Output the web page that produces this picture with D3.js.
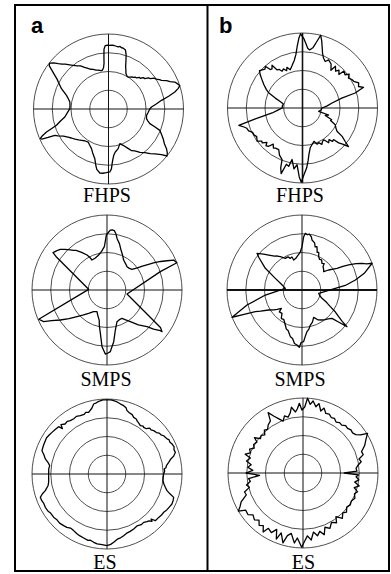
<!DOCTYPE html>
<html>
<head>
<meta charset="utf-8">
<script src="https://cdn.jsdelivr.net/npm/d3@7"></script>
<style>
  body { margin: 0; background: #fff; }
  svg { display: block; }
</style>
</head>
<body>
<svg width="391" height="574"></svg>
<script>
// traces: [angle in degrees, counter-clockwise from +x, radius / outer ring]
const fhpsA = [[0,0.55],[2.7,0.574],[6,0.64],[9.3,0.716],[12,0.82],[14.4,0.913],[16.5,0.97],[18.1,1.0],[20,0.98],[22.1,0.955],[24,0.90],[26,0.86],[28.4,0.803],[30,0.785],[32,0.75],[34,0.735],[36,0.69],[38,0.675],[39.9,0.631],[42,0.625],[44,0.59],[46,0.588],[48,0.56],[50,0.553],[52,0.535],[54,0.528],[56,0.512],[58.4,0.50],[61,0.505],[64,0.53],[66,0.57],[68,0.61],[70,0.68],[72,0.76],[74,0.82],[76.3,0.835],[78,0.835],[79.5,0.848],[81.1,0.837],[83,0.843],[85,0.850],[87,0.852],[89,0.848],[91,0.85],[93,0.845],[94.3,0.80],[95,0.70],[95.6,0.61],[97,0.55],[99,0.525],[101,0.52],[105,0.538],[108,0.545],[111,0.566],[114,0.58],[116.8,0.606],[120,0.64],[123,0.686],[126,0.71],[130.3,0.768],[134,0.83],[136,0.862],[138,0.903],[140,0.955],[142.1,0.995],[143.8,0.98],[145.5,0.92],[147.9,0.845],[150,0.79],[152,0.755],[156.6,0.683],[160,0.62],[162,0.589],[166,0.55],[169.7,0.524],[175,0.515],[179.5,0.516],[185,0.55],[190.4,0.592],[194,0.66],[197.4,0.727],[199,0.80],[200.4,0.882],[202,0.95],[203.4,0.99],[204.3,0.975],[205.2,0.89],[206.1,0.797],[208,0.765],[211,0.70],[214.8,0.658],[218,0.628],[222,0.60],[226,0.574],[229.2,0.551],[233,0.53],[238.4,0.517],[242,0.54],[246.8,0.575],[250,0.62],[254.6,0.687],[257,0.76],[259,0.82],[262.3,0.861],[265,0.86],[268,0.85],[271.2,0.84],[272.8,0.80],[273.8,0.73],[275,0.67],[276.5,0.621],[279,0.58],[283.7,0.544],[288.1,0.486],[292,0.522],[296,0.58],[299.1,0.636],[302,0.66],[306,0.715],[309.8,0.757],[313,0.815],[316,0.86],[319.3,0.933],[321.2,1.0],[323.2,0.98],[325.6,0.937],[328,0.88],[331.5,0.829],[334,0.79],[337.4,0.741],[339,0.66],[340.5,0.585],[343,0.55],[345.7,0.523],[350.5,0.514],[355,0.53]];

const smpsA = [[348.7,0.272],[19,0.752],[21.3,1.0],[24.2,0.975],[26,0.89],[28,0.81],[30,0.73],[32,0.64],[34,0.57],[36,0.50],[39.6,0.433],[44,0.415],[49.4,0.41],[55,0.43],[61,0.457],[66,0.51],[70.7,0.565],[75,0.64],[79,0.70],[81,0.76],[83,0.797],[85,0.805],[86.8,0.80],[88.5,0.77],[90.7,0.733],[92,0.65],[93.5,0.579],[98,0.52],[103.4,0.48],[110,0.455],[116.6,0.447],[118,0.50],[119.7,0.537],[124,0.605],[128,0.67],[130,0.69],[132.5,0.727],[136,0.78],[139,0.825],[141.8,0.85],[145.3,0.875],[147,0.80],[177.9,0.245],[203.2,0.99],[206.6,0.944],[209,0.845],[212.7,0.74],[217,0.635],[221.6,0.535],[226,0.465],[231.8,0.396],[238,0.34],[245.2,0.318],[250,0.36],[255.5,0.415],[258,0.49],[261.3,0.585],[265,0.759],[268.5,0.854],[271,0.84],[273.1,0.823],[275,0.76],[277.4,0.695],[281.8,0.545],[287.5,0.443],[292,0.43],[297.9,0.427],[302,0.47],[306.4,0.524],[312,0.625],[317.5,0.724],[320,0.81],[322.7,0.894],[322.9,0.92],[325,0.87]];

const esA = [[0,0.755],[3,0.77],[5,0.765],[6,0.79],[8,0.80],[10.7,0.837],[13,0.87],[15,0.92],[17.6,0.956],[20,0.95],[22,0.965],[24.8,0.955],[27,0.94],[29,0.945],[30,0.93],[32,0.92],[34,0.912],[36,0.89],[38,0.885],[40,0.86],[42.9,0.85],[45,0.83],[47,0.835],[49,0.80],[51.8,0.791],[53,0.80],[55.4,0.783],[58,0.80],[60,0.81],[62,0.83],[64.8,0.835],[67,0.86],[70,0.87],[72.5,0.886],[74,0.92],[76.3,0.938],[79,0.95],[82,0.97],[84.8,0.982],[87,0.99],[90,0.987],[93,0.99],[96.5,0.975],[98.5,0.96],[100.8,0.95],[103,0.90],[106.6,0.858],[109,0.87],[111,0.85],[114.6,0.855],[118,0.87],[121,0.86],[124.5,0.863],[127,0.88],[130,0.87],[133,0.90],[134.5,0.849],[135.6,0.902],[139,0.91],[142.9,0.92],[146,0.93],[149,0.94],[151.6,0.935],[155,0.93],[158,0.925],[160.3,0.921],[163,0.88],[166.3,0.846],[169,0.80],[171.7,0.772],[175,0.78],[180,0.778],[184,0.78],[188.1,0.786],[191,0.80],[195.1,0.852],[197,0.90],[199.3,0.942],[202,0.94],[205,0.93],[208.4,0.935],[212,0.93],[215,0.915],[219,0.916],[222,0.905],[226,0.91],[230,0.899],[233,0.89],[236,0.87],[239.5,0.876],[243,0.89],[246,0.90],[250,0.908],[254,0.92],[256,0.91],[259,0.928],[262,0.94],[266,0.945],[270,0.955],[273,0.94],[275.6,0.915],[279,0.88],[282,0.87],[285.1,0.852],[289,0.83],[292,0.825],[295.9,0.815],[300,0.80],[304,0.815],[307.2,0.81],[310,0.83],[312,0.84],[313.5,0.87],[314.4,0.84],[316,0.896],[320,0.90],[323,0.91],[326,0.912],[329,0.93],[332,0.94],[335.2,0.954],[338,0.95],[340.7,0.942],[342.5,0.88],[344.5,0.83],[347,0.80],[350,0.77],[353.2,0.752],[356,0.75]];

const fhpsB = [[0,0.26],[5,0.33],[9.6,0.40],[14.2,0.54],[15.9,0.73],[18.7,0.86],[21,0.80],[24,0.82],[27.5,0.77],[30,0.76],[33,0.73],[36,0.77],[38,0.72],[41.7,0.74],[42.6,0.66],[46,0.70],[48,0.66],[51.8,0.71],[53,0.63],[57,0.70],[61.5,0.73],[64,0.69],[67,0.72],[70,0.78],[72,0.85],[74,0.93],[76,1.0],[78,0.90],[80,0.82],[83,0.78],[85,0.80],[87,0.86],[89,0.93],[91.5,0.99],[93,0.93],[95,0.82],[97,0.72],[100,0.64],[102,0.61],[104,0.58],[107.7,0.536],[111,0.58],[113,0.54],[116,0.58],[119,0.56],[121,0.60],[123.6,0.61],[125.5,0.70],[128,0.66],[130,0.67],[131.7,0.745],[134,0.72],[136.6,0.74],[139,0.76],[141.7,0.72],[145,0.66],[149,0.60],[153,0.54],[156,0.49],[160,0.386],[164,0.31],[168,0.26],[174,0.27],[180,0.27],[185,0.33],[189.3,0.41],[193,0.645],[195.2,0.88],[198,0.82],[200,0.79],[203,0.78],[206,0.74],[209,0.74],[212,0.72],[216.2,0.75],[219,0.70],[221,0.71],[224,0.66],[226,0.70],[228.6,0.68],[231,0.62],[234,0.66],[236,0.645],[240.3,0.64],[244,0.70],[248.4,0.74],[250,0.85],[252,0.92],[254,0.78],[256.7,0.80],[258.5,0.70],[262,0.82],[264.5,0.76],[267.3,0.92],[269,0.99],[271,0.90],[274,0.80],[276,0.71],[278,0.62],[281,0.54],[285,0.50],[289,0.47],[292,0.52],[295,0.51],[298,0.55],[301,0.52],[304,0.51],[307,0.58],[310,0.55],[312,0.60],[314.5,0.59],[316,0.67],[318,0.72],[320,0.80],[322,0.72],[324.4,0.65],[326,0.555],[329,0.52],[333,0.49],[336,0.41],[338,0.42],[342,0.32],[345,0.36],[348.5,0.22],[354,0.25]];

const smpsB = [[2.9,0.445],[6,0.58],[10.6,0.724],[15,0.86],[20.9,1.0],[22,0.93],[24,0.875],[26,0.80],[28.2,0.706],[30,0.63],[31.8,0.549],[34,0.50],[36.9,0.444],[40.2,0.378],[44,0.40],[48,0.42],[50,0.46],[53.1,0.444],[57,0.48],[60,0.47],[63.4,0.497],[66,0.55],[68,0.54],[70.9,0.611],[73,0.60],[75,0.65],[78.7,0.68],[80,0.72],[82.5,0.753],[84.5,0.74],[86.6,0.757],[88.2,0.711],[90,0.578],[92.5,0.51],[95,0.48],[98.5,0.449],[101,0.43],[105.5,0.415],[107,0.46],[110.2,0.45],[113,0.48],[117.8,0.477],[120,0.50],[123,0.53],[126,0.56],[129,0.58],[133.6,0.644],[137,0.70],[140.8,0.774],[143,0.72],[149.4,0.568],[156.4,0.388],[165,0.28],[174.3,0.223],[187.8,0.493],[195.3,0.76],[201.3,1.0],[202.6,0.867],[204.9,0.686],[207,0.62],[211,0.518],[215,0.46],[218,0.42],[221.6,0.368],[224,0.42],[229.4,0.41],[234,0.47],[238,0.46],[244.5,0.517],[248,0.56],[251,0.57],[256,0.641],[259,0.66],[262,0.72],[264.8,0.736],[267.3,0.765],[269,0.70],[271.8,0.689],[274,0.62],[276.8,0.56],[280,0.53],[283.4,0.48],[288,0.45],[293.1,0.396],[298,0.45],[303.7,0.481],[308,0.50],[312,0.52],[316.6,0.55],[319,0.66],[320.8,0.774],[322,0.68],[324,0.604],[327,0.52],[329.5,0.438],[333,0.37],[337.4,0.289],[342,0.25],[348.7,0.227]];

const esB = [[0,0.55],[2,0.72],[5,0.71],[8,0.74],[11,0.79],[14,0.77],[17,0.84],[20,0.83],[24,0.90],[28,0.95],[31.6,1.01],[33.5,0.92],[36,0.87],[39,0.85],[42,0.86],[45,0.84],[48,0.85],[51,0.82],[54,0.83],[57,0.81],[60,0.84],[63,0.83],[66,0.86],[69,0.85],[72,0.91],[74,0.86],[77,0.95],[79,0.90],[82,0.97],[84,0.92],[86.5,1.0],[88.5,0.88],[91,0.84],[93,0.93],[95,0.86],[97,0.82],[100,0.89],[102,0.82],[105,0.77],[108,0.80],[111,0.74],[114,0.79],[117,0.85],[120,0.93],[122,0.82],[126,0.79],[129,0.75],[132,0.77],[135,0.72],[138,0.75],[141,0.73],[144,0.80],[146,0.74],[150,0.76],[153,0.73],[156,0.78],[159,0.75],[162,0.81],[164,0.73],[168,0.77],[171,0.70],[174,0.74],[177,0.67],[180,0.76],[183,0.58],[186,0.73],[189,0.71],[192,0.77],[195,0.74],[198,0.82],[201,0.81],[205,0.91],[208,0.95],[210.5,1.0],[213,0.91],[217,0.92],[220,0.87],[224,0.90],[227,0.86],[230,0.91],[233,0.88],[236,0.95],[238,0.87],[242,0.90],[245,0.83],[248,0.95],[250,0.85],[254,0.97],[256,0.86],[259,0.82],[263,0.94],[265,0.87],[269,0.99],[271,0.92],[274,0.84],[277,0.90],[280,0.80],[283,0.86],[286,0.81],[289,0.87],[292,0.78],[296,0.82],[300,0.76],[304,0.80],[307,0.73],[311,0.80],[315,0.75],[318,0.78],[322,0.74],[326,0.76],[330,0.745],[334,0.77],[338,0.74],[341,0.77],[344,0.71],[347,0.77],[350,0.70],[353,0.75],[356,0.71],[358,0.74]];

const rings = [0.25, 0.5, 0.75, 1];
const panelLetters = ['a', 'b'];
const plotNames = ['FHPS', 'SMPS', 'ES'];

const svg = d3.select('svg');
svg.append('rect').attr('width', 391).attr('height', 574).attr('fill', '#fff');

// frame + divider
svg.append('rect')
  .attr('x', 15).attr('y', 5).attr('width', 374).attr('height', 566)
  .attr('fill', 'none').attr('stroke', '#000').attr('stroke-width', 2);
svg.append('line')
  .attr('x1', 207.5).attr('x2', 207.5).attr('y1', 5).attr('y2', 571)
  .attr('stroke', '#000').attr('stroke-width', 2);

const R = 75;
const r = d3.scaleLinear().domain([0, 1]).range([0, R]);
const radial = d3.lineRadial()
  .angle(d => (90 - d[0]) * Math.PI / 180)
  .radius(d => r(d[1]))
  .curve(d3.curveLinearClosed);

const plots = [
  {data: fhpsA, cx: 108.5, cy: 109, name: 0, tx: 107, ty: 202, hw: 1, vw: 1},
  {data: smpsA, cx: 107, cy: 290, name: 1, tx: 106, ty: 386, hw: 1, vw: 1},
  {data: esA,   cx: 107, cy: 474, name: 2, tx: 105, ty: 569, hw: 1, vw: 1},
  {data: fhpsB, cx: 302.5, cy: 108, name: 0, tx: 300, ty: 202, hw: 1, vw: 1.6},
  {data: smpsB, cx: 302, cy: 290, name: 1, tx: 300, ty: 386, hw: 2, vw: 1},
  {data: esB,   cx: 303, cy: 473, name: 2, tx: 303.5, ty: 569, hw: 1, vw: 1}
];

plots.forEach(p => {
  const g = svg.append('g').attr('transform', `translate(${p.cx},${p.cy})`);

  g.selectAll('circle.ring')
    .data(rings)
    .enter().append('circle')
    .attr('class', 'ring')
    .attr('r', d => r(d))
    .attr('fill', 'none')
    .attr('stroke', '#3a3a3a')
    .attr('stroke-width', 0.9);

  g.append('line')
    .attr('x1', -r(1)).attr('x2', r(1)).attr('y1', 0).attr('y2', 0)
    .attr('stroke', '#111').attr('stroke-width', p.hw);
  g.append('line')
    .attr('x1', 0).attr('x2', 0).attr('y1', -r(1)).attr('y2', r(1))
    .attr('stroke', '#111').attr('stroke-width', p.vw);

  g.append('path')
    .attr('d', radial(p.data))
    .attr('fill', 'none')
    .attr('stroke', '#000')
    .attr('stroke-width', 1.3)
    .attr('stroke-linejoin', 'round');

  svg.append('text')
    .attr('x', p.tx).attr('y', p.ty)
    .attr('text-anchor', 'middle')
    .attr('font-family', '"Liberation Serif", "Times New Roman", serif')
    .attr('font-size', 20)
    .text(plotNames[p.name]);
});

svg.selectAll('text.panel')
  .data(panelLetters)
  .enter().append('text')
  .attr('class', 'panel')
  .attr('x', (d, i) => i === 0 ? 31 : 219)
  .attr('y', 33)
  .attr('font-family', '"Liberation Sans", Arial, sans-serif')
  .attr('font-weight', 'bold')
  .attr('font-size', 22)
  .text(d => d);
</script>
</body>
</html>
